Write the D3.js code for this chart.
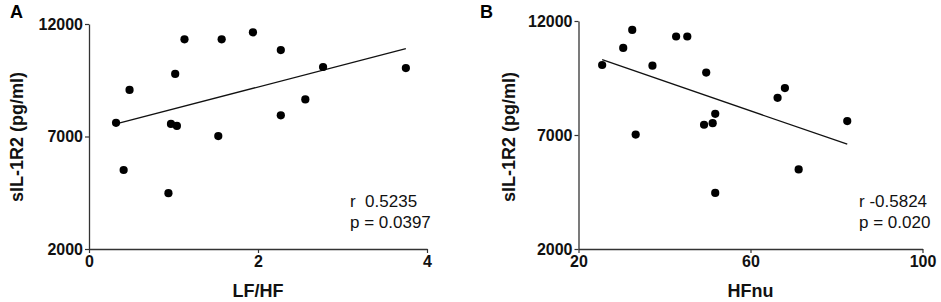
<!DOCTYPE html>
<html>
<head>
<meta charset="utf-8">
<script src="https://cdn.jsdelivr.net/npm/d3@7"></script>
<style>
  body { margin: 0; background: #fff; }
  text { font-family: "Liberation Sans", Arial, sans-serif; }
</style>
</head>
<body>
<div id="chart"></div>
<script>
// Values (16 subjects)
const lfhf = [0.32, 0.41, 0.48, 0.94, 0.97, 1.04, 1.02, 1.13, 1.53, 1.57, 1.94, 2.27, 2.27, 2.56, 2.77, 3.75];
const sil1r2A = [7610, 5510, 9070, 4480, 7560, 7470, 9780, 11320, 7020, 11320, 11630, 10840, 7940, 8650, 10090, 10040];

const hfnu = [25.5, 30.4, 32.5, 33.3, 37.2, 42.7, 45.3, 49.2, 49.7, 51.2, 51.8, 51.8, 66.3, 68.0, 71.2, 82.5];
const sil1r2B = [10070, 10820, 11610, 7020, 10040, 11320, 11320, 7450, 9740, 7520, 7930, 4460, 8630, 9060, 5490, 7610];

const yTicks = [2000, 7000, 12000];
const xTicksA = [0, 2, 4];
const xTicksB = [20, 60, 100];

const width = 941;
const height = 302;

const svg = d3.select("#chart")
    .append("svg")
    .attr("width", width)
    .attr("height", height);

// simple least squares fit
function fit(xs, ys) {
    const mx = d3.mean(xs), my = d3.mean(ys);
    let sxy = 0, sxx = 0;
    xs.forEach((x, i) => { sxy += (x - mx) * (ys[i] - my); sxx += (x - mx) * (x - mx); });
    const b = sxy / sxx;
    return x => my + b * (x - mx);
}

function drawPanel(opt) {
    const x = d3.scaleLinear().domain(opt.xDomain).range(opt.xRange);
    const y = d3.scaleLinear().domain([2000, 12000]).range(opt.yRange);
    const g = svg.append("g");

    // panel letter
    g.append("text")
        .attr("x", opt.letterX)
        .attr("y", 18)
        .style("font-size", "18px")
        .style("font-weight", "bold")
        .text(opt.letter);

    const yAxis = g.append("g")
        .attr("transform", `translate(${opt.xRange[0]},0)`)
        .call(d3.axisLeft(y).tickValues(yTicks).tickFormat(d3.format("d"))
            .tickSize(4).tickPadding(2).tickSizeOuter(0));
    const xAxis = g.append("g")
        .attr("transform", `translate(0,${opt.yRange[0]})`)
        .call(d3.axisBottom(x).tickValues(opt.xTicks).tickFormat(d3.format("d"))
            .tickSize(4).tickPadding(3).tickSizeOuter(0));

    [xAxis, yAxis].forEach(a => {
        a.select(".domain").attr("stroke", "#333").attr("stroke-width", 1.3);
        a.selectAll(".tick line").attr("stroke", "#333").attr("stroke-width", 1.2);
        a.selectAll(".tick text")
            .attr("fill", "#111")
            .style("font-size", "16px")
            .style("font-weight", "bold");
    });

    // axis titles
    g.append("text")
        .attr("x", (opt.xRange[0] + opt.xRange[1]) / 2)
        .attr("y", 297)
        .attr("text-anchor", "middle")
        .style("font-size", "18px")
        .style("font-weight", "bold")
        .attr("fill", "#111")
        .text(opt.xTitle);

    g.append("text")
        .attr("transform", `translate(${opt.yTitleX},${137}) rotate(-90)`)
        .attr("text-anchor", "middle")
        .style("font-size", "18px")
        .style("font-weight", "bold")
        .attr("fill", "#111")
        .text("sIL-1R2 (pg/ml)");

    // regression line over the data range
    const f = fit(opt.xs, opt.ys);
    const ext = d3.extent(opt.xs);
    g.append("line")
        .attr("x1", x(ext[0])).attr("y1", y(f(ext[0])))
        .attr("x2", x(ext[1])).attr("y2", y(f(ext[1])))
        .attr("stroke", "#111")
        .attr("stroke-width", 1.3);

    // points
    g.selectAll(".dot")
        .data(opt.xs.map((d, i) => [d, opt.ys[i]]))
        .enter()
        .append("circle")
        .attr("class", "dot")
        .attr("cx", d => x(d[0]))
        .attr("cy", d => y(d[1]))
        .attr("r", 4.1)
        .attr("fill", "#000");

    // stats
    const st = g.append("text")
        .style("font-size", "17px")
        .attr("fill", "#111");
    st.append("tspan").attr("x", opt.statX).attr("y", 207).attr("xml:space", "preserve").text(opt.rText);
    st.append("tspan").attr("x", opt.statX).attr("y", 228).text(opt.pText);
}

drawPanel({
    letter: "A", letterX: 10,
    xs: lfhf, ys: sil1r2A,
    xDomain: [0, 4], xRange: [89, 427], yRange: [249, 24],
    xTicks: xTicksA, xTitle: "LF/HF", yTitleX: 23,
    statX: 350, rText: "r  0.5235", pText: "p = 0.0397"
});

drawPanel({
    letter: "B", letterX: 480,
    xs: hfnu, ys: sil1r2B,
    xDomain: [20, 100], xRange: [578.5, 922.5], yRange: [249, 21],
    xTicks: xTicksB, xTitle: "HFnu", yTitleX: 515,
    statX: 859, rText: "r -0.5824", pText: "p = 0.020"
});
</script>
</body>
</html>
